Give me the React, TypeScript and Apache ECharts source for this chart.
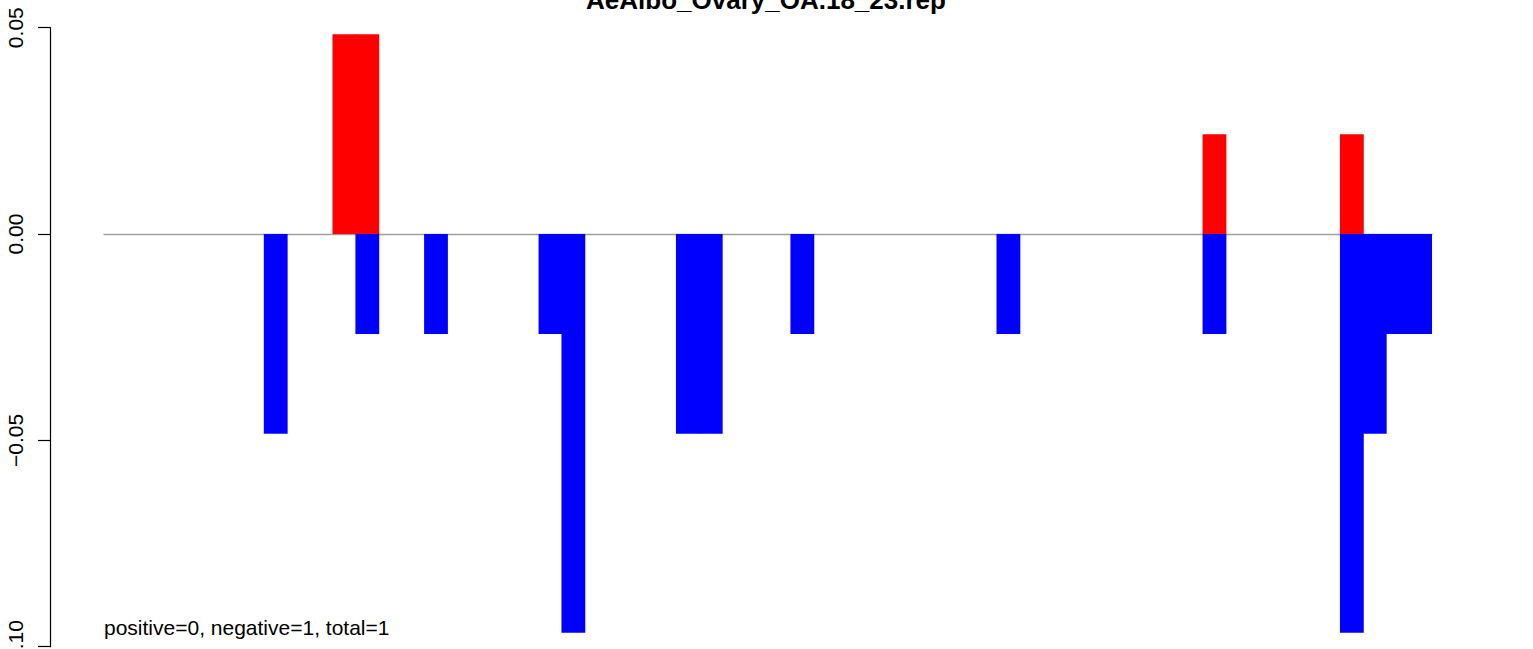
import React, { useEffect, useRef } from "react";
import * as echarts from "echarts";

const titleText = "AeAlbo_Ovary_OA.18_23.rep";
const noteText = "positive=0, negative=1, total=1";
const binCount = 58;
const categories: string[] = Array.from({ length: binCount }, (_, i) => String(i + 1));
const yTicks = [-0.1, -0.05, 0, 0.05];

// bin index -> value
const positiveBins: [number, number][] = [
  [10, 0.0484],
  [11, 0.0484],
  [48, 0.0242],
  [54, 0.0242],
];
const negativeBins: [number, number][] = [
  [7, -0.0484],
  [11, -0.0242],
  [14, -0.0242],
  [19, -0.0242],
  [20, -0.0966],
  [25, -0.0484],
  [26, -0.0484],
  [30, -0.0242],
  [39, -0.0242],
  [48, -0.0242],
  [54, -0.0966],
  [55, -0.0484],
  [56, -0.0242],
  [57, -0.0242],
];

function toSeries(bins: [number, number][]): (number | null)[] {
  const arr: (number | null)[] = categories.map(() => null);
  bins.forEach(([i, v]) => {
    arr[i] = v;
  });
  return arr;
}

const FONT = "'Liberation Sans', Arial, Helvetica, sans-serif";

export default function App() {
  const ref = useRef<HTMLDivElement>(null);
  useEffect(() => {
    if (!ref.current) return;
    const chart = echarts.init(ref.current, undefined, { renderer: "svg" });
    chart.setOption({
      animation: false,
      backgroundColor: "#ffffff",
      textStyle: { fontFamily: FONT },
      grid: {
        left: 104,
        right: 101,
        top: 27.7,
        bottom: 2.3,
        containLabel: false,
        outerBoundsMode: "none",
      },
      xAxis: {
        type: "category",
        data: categories,
        boundaryGap: true,
        axisLine: { show: true, onZero: true, lineStyle: { color: "#a0a0a0", width: 1.3 } },
        axisTick: { show: false },
        axisLabel: { show: false },
        splitLine: { show: false },
      },
      yAxis: {
        type: "value",
        min: yTicks[0],
        max: yTicks[yTicks.length - 1],
        interval: 0.05,
        offset: 54,
        axisLine: { show: true, lineStyle: { color: "#000000", width: 1.2 } },
        axisTick: { show: true, length: 12, lineStyle: { color: "#000000", width: 1.2 } },
        axisLabel: {
          show: true,
          rotate: 90,
          margin: 24,
          color: "#000000",
          fontSize: 21,
          fontFamily: FONT,
          formatter: (v: number) => {
            const s = Math.abs(v).toFixed(2);
            return v < -1e-9 ? "\u2212" + s : s;
          },
        },
        splitLine: { show: false },
      },
      series: [
        {
          type: "bar",
          name: "positive",
          data: toSeries(positiveBins),
          barWidth: "104%",
          barGap: "-100%",
          barCategoryGap: 0,
          itemStyle: { color: "#ff0000" },
        },
        {
          type: "bar",
          name: "negative",
          data: toSeries(negativeBins),
          barWidth: "104%",
          barGap: "-100%",
          barCategoryGap: 0,
          itemStyle: { color: "#0000ff" },
        },
      ],
      graphic: [
        {
          type: "text",
          x: 766,
          y: 13,
          style: {
            text: titleText,
            fontSize: 26,
            fontWeight: "bold",
            fontFamily: FONT,
            fill: "#000000",
            textAlign: "center",
            textVerticalAlign: "bottom",
          },
        },
        {
          type: "text",
          x: 104,
          y: 627,
          style: {
            text: noteText,
            fontSize: 21,
            fontFamily: FONT,
            fill: "#000000",
            textAlign: "left",
            textVerticalAlign: "middle",
          },
        },
      ],
    });
    return () => chart.dispose();
  }, []);
  return (
    <div
      ref={ref}
      style={{ position: "fixed", left: 0, top: 0, width: 1533, height: 649 }}
    />
  );
}
